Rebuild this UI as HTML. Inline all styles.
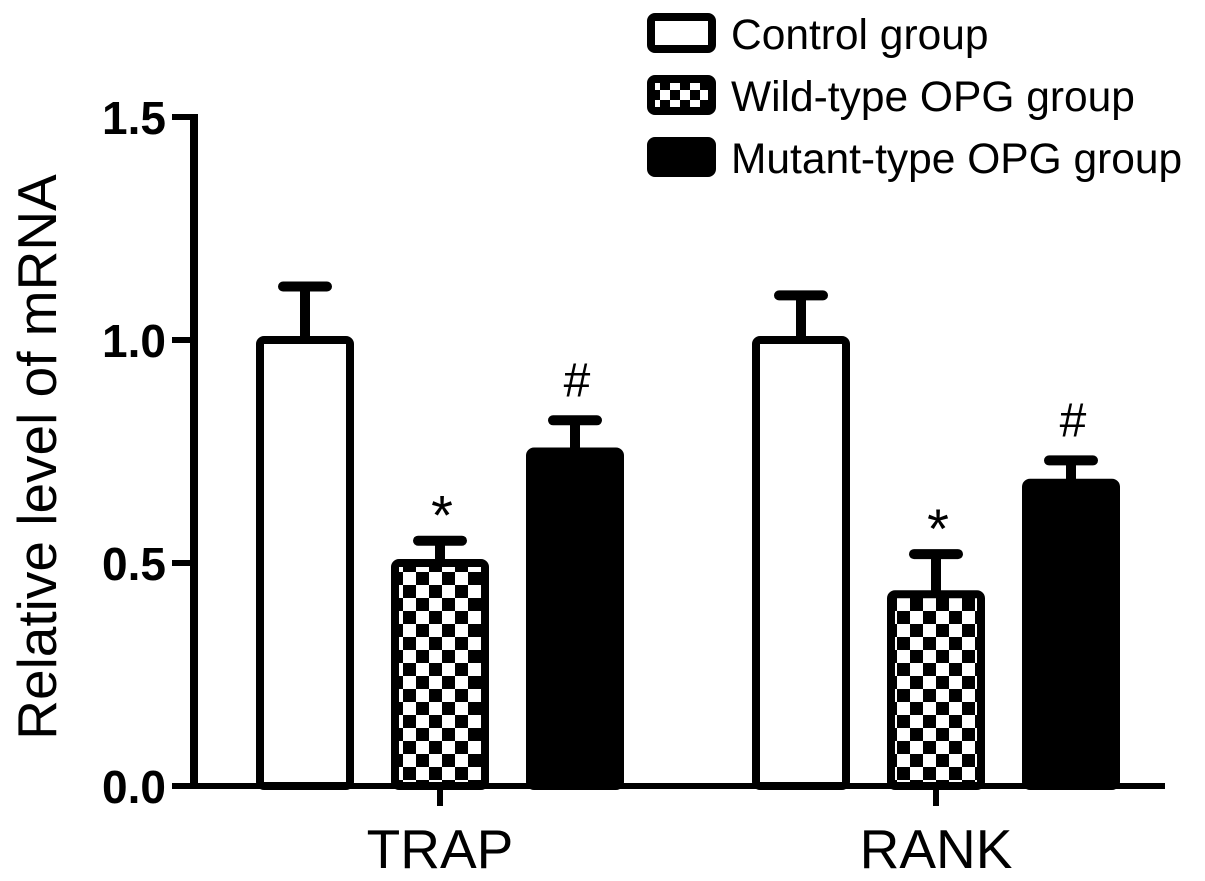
<!DOCTYPE html>
<html><head><style>body{margin:0;background:#fff}svg{display:block}text{font-family:"Liberation Sans",sans-serif}</style></head>
<body>
<svg id="c" width="1205" height="881">
<defs><pattern id="chk" width="26" height="26" patternUnits="userSpaceOnUse"><rect width="26" height="26" fill="#fff"/><rect width="13" height="13" fill="#000"/><rect x="13" y="13" width="13" height="13" fill="#000"/></pattern>
<pattern id="chk2" width="20" height="20" patternUnits="userSpaceOnUse"><rect width="20" height="20" fill="#fff"/><rect width="10" height="10" fill="#000"/><rect x="10" y="10" width="10" height="10" fill="#000"/></pattern></defs>
<g id="g"></g>
</svg>
<script>
const categories=["TRAP","RANK"];
const control=[1.0,1.0];
const controlErr=[0.12,0.10];
const wild=[0.5,0.43];
const wildErr=[0.05,0.09];
const mutant=[0.75,0.68];
const mutantErr=[0.07,0.05];
const ticks=[0.0,0.5,1.0,1.5];
const tickLabels=["0.0","0.5","1.0","1.5"];
const marks=[[],["*","*"],["#","#"]];
const g=document.getElementById('g');
const NS="http://www.w3.org/2000/svg";
const AX=194, BASE=786;
function y(v){return BASE-v*446;}
function grpX(i){return 440+i*496;}
function mk(t,a,p){const e=document.createElementNS(NS,t);for(const k in a)e.setAttribute(k,a[k]);(p||g).appendChild(e);return e;}
const series=[control,wild,mutant],errs=[controlErr,wildErr,mutantErr];
const fills=['#fff','url(#chk)','#000'];
const offs=[-135,0,135],bw=90;
categories.forEach((c,i)=>{
  const cx=grpX(i);
  mk('line',{x1:cx,y1:BASE,x2:cx,y2:806,stroke:'#000','stroke-width':6});
  const lt=mk('text',{x:cx,y:868,'text-anchor':'middle','font-size':55});
  lt.textContent=c;
  
  
  series.forEach((s,j)=>{
    const bx=cx+offs[j]-bw/2, top=y(s[i]), et=y(s[i]+errs[j][i]);
    mk('line',{x1:cx+offs[j],y1:et,x2:cx+offs[j],y2:top,stroke:'#000','stroke-width':10});
    mk('line',{x1:cx+offs[j]-22,y1:et,x2:cx+offs[j]+22,y2:et,stroke:'#000','stroke-width':10,'stroke-linecap':'round'});
    const r=mk('rect',{x:bx,y:top,width:bw,height:BASE-top,fill:fills[j],stroke:'#000','stroke-width':8,rx:4});
    
    
    if(marks[j][i]){
      const m=mk('text',{x:cx+offs[j]+2,y:j==1?et-6:et-24,'text-anchor':'middle','font-size':j==1?56:48});
      m.textContent=marks[j][i];
      
      
    }
  });
});
const ax=mk('line',{x1:AX,y1:y(1.5)-3,x2:AX,y2:BASE+3,stroke:'#000','stroke-width':8});


const xa=mk('line',{x1:AX-4,y1:BASE,x2:1165,y2:BASE,stroke:'#000','stroke-width':6});


ticks.forEach((t,i)=>{
  mk('line',{x1:172,y1:y(t),x2:AX,y2:y(t),stroke:'#000','stroke-width':6});
  const tx=mk('text',{x:166,y:y(t)+17,'text-anchor':'end','font-size':46,'font-weight':'bold'});
  tx.textContent=tickLabels[i];
  
  
});
const yt=mk('text',{transform:'translate(56,457) rotate(-90)','text-anchor':'middle','font-size':55});
yt.textContent='Relative level of mRNA';


const leg=["Control group","Wild-type OPG group","Mutant-type OPG group"],ly=[13,75,137],lb=[49,111,173];
const lfills=['#fff','url(#chk2)','#000'];
leg.forEach((l,i)=>{
  const b=mk('rect',{x:651,y:ly[i]+4,width:61,height:32,fill:lfills[i],stroke:'#000','stroke-width':8,rx:4});
  
  
  const t=mk('text',{x:731,y:lb[i],'font-size':42.5});
  t.textContent=l;
  
  
});
</script>
</body></html>
